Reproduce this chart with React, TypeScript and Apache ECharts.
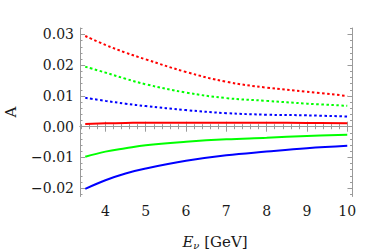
import React, { useEffect, useRef } from "react";
import * as echarts from "echarts";

// Energies (GeV) at which curves were read
const energies = [3.5, 4, 4.5, 5, 6, 7, 8, 9, 10];

// Dotted curves
const redDotted = [0.0295, 0.0266, 0.0241, 0.0219, 0.0178, 0.0146, 0.0127, 0.0114, 0.01];
const greenDotted = [0.0195, 0.0176, 0.0156, 0.0138, 0.0111, 0.0093, 0.0084, 0.0075, 0.0068];
const blueDotted = [0.0094, 0.0084, 0.0075, 0.0067, 0.0054, 0.0044, 0.0039, 0.0037, 0.0033];

// Solid curves
const redSolid = [0.0009, 0.0011, 0.0012, 0.0013, 0.0013, 0.0013, 0.0013, 0.0012, 0.0011];
const greenSolid = [-0.0098, -0.0081, -0.007, -0.006, -0.0049, -0.0041, -0.0036, -0.003, -0.0026];
const blueSolid = [-0.0202, -0.0174, -0.0152, -0.0136, -0.0111, -0.0093, -0.0081, -0.007, -0.0062];

// Tick values
const xMajorTicks = [4, 5, 6, 7, 8, 9, 10];
const yMajorTicks = [-0.02, -0.01, 0, 0.01, 0.02, 0.03];

const X_MIN = 3.37;
const X_MAX = 10.13;
const Y_MIN = -0.0227;
const Y_MAX = 0.0321;

const SERIF = "DejaVu Serif";
const TEXT = "#1a1a1a";

function makeMinor(lo: number, hi: number, step: number, start: number): number[] {
  const out: number[] = [];
  for (let i = 0; ; i++) {
    const v = Math.round((start + i * step) * 1e6) / 1e6;
    if (v > hi) break;
    if (v >= lo) out.push(v);
  }
  return out;
}

const xMinorTicks = makeMinor(X_MIN, X_MAX, 0.2, 3.0);
const yMinorTicks = makeMinor(Y_MIN, Y_MAX, 0.002, -0.024);

const pair = (ys: number[]) => energies.map((e, i) => [e, ys[i]]);

export default function App() {
  const ref = useRef<HTMLDivElement>(null);
  useEffect(() => {
    if (!ref.current) return;
    const chart = echarts.init(ref.current, null, { renderer: "svg" });
    const axisColor = "#9a9a9a";
    const fmtY = (v: number) => {
      const s = Math.abs(v).toFixed(2);
      return v < -1e-9 ? "\u2212" + s : s;
    };
    const labelStyle = { fontFamily: SERIF, fontSize: 14, color: TEXT };
    const xAxisBase = (position: "top" | "bottom", major: boolean, labels: boolean) => ({
      type: "value",
      min: X_MIN,
      max: X_MAX,
      position,
      axisLine: { show: major, lineStyle: { color: axisColor, width: 1 } },
      axisTick: {
        show: true,
        inside: true,
        length: major ? 5 : 2.5,
        customValues: major ? xMajorTicks : xMinorTicks,
        lineStyle: { color: axisColor, width: 1 },
      },
      axisLabel: labels
        ? { show: true, customValues: xMajorTicks, margin: 7, ...labelStyle, formatter: (v: number) => String(v) }
        : { show: false },
      splitLine: { show: false },
    });
    const yAxisBase = (position: "left" | "right", major: boolean, labels: boolean) => ({
      type: "value",
      min: Y_MIN,
      max: Y_MAX,
      position,
      axisLine: { show: major, lineStyle: { color: axisColor, width: 1 } },
      axisTick: {
        show: true,
        inside: true,
        length: major ? 5 : 2.5,
        customValues: major ? yMajorTicks : yMinorTicks,
        lineStyle: { color: axisColor, width: 1 },
      },
      axisLabel: labels
        ? { show: true, customValues: yMajorTicks, margin: 6, ...labelStyle, formatter: fmtY }
        : { show: false },
      splitLine: { show: false },
    });
    const line = (data: number[], color: string, dotted: boolean) => ({
      type: "line",
      xAxisIndex: 0,
      yAxisIndex: 0,
      data: pair(data),
      smooth: 0.4,
      showSymbol: false,
      symbol: "none",
      lineStyle: {
        color,
        width: 2,
        type: dotted ? [2.5, 2.5] : "solid",
        cap: "butt",
      },
    });
    chart.setOption({
      animation: false,
      backgroundColor: "#ffffff",
      grid: { left: 80, top: 28, right: 29.5, bottom: 54.5 },
      xAxis: [
        xAxisBase("bottom", true, true),
        xAxisBase("bottom", false, false),
        xAxisBase("top", true, false),
        xAxisBase("top", false, false),
      ],
      yAxis: [
        yAxisBase("left", true, true),
        yAxisBase("left", false, false),
        yAxisBase("right", true, false),
        yAxisBase("right", false, false),
      ],
      series: [
        line(redDotted, "#ff0000", true),
        line(greenDotted, "#00ff00", true),
        line(blueDotted, "#0000ff", true),
        line(redSolid, "#ff0000", false),
        line(greenSolid, "#00ff00", false),
        line(blueSolid, "#0000ff", false),
      ],
      graphic: [
        {
          type: "text",
          x: 215,
          y: 242,
          style: {
            text: "{i|E}{s|\u03bd} {n|[GeV]}",
            align: "center",
            verticalAlign: "middle",
            fontFamily: SERIF,
            fontSize: 15,
            fill: TEXT,
            rich: {
              i: { fontFamily: SERIF, fontStyle: "italic", fontSize: 15, fill: TEXT },
              n: { fontFamily: SERIF, fontSize: 15, fill: TEXT },
              s: { fontFamily: SERIF, fontStyle: "italic", fontSize: 10, fill: TEXT, padding: [7, 0, 0, 0] },
            },
          },
        },
        {
          type: "text",
          x: 11,
          y: 112,
          rotation: Math.PI / 2,
          style: {
            text: "A",
            align: "center",
            verticalAlign: "middle",
            fontFamily: SERIF,
            fontSize: 15,
            fill: TEXT,
          },
        },
      ],
    });
    return () => chart.dispose();
  }, []);
  return (
    <div
      ref={ref}
      style={{ position: "fixed", left: 0, top: 0, width: 382, height: 251 }}
    />
  );
}
